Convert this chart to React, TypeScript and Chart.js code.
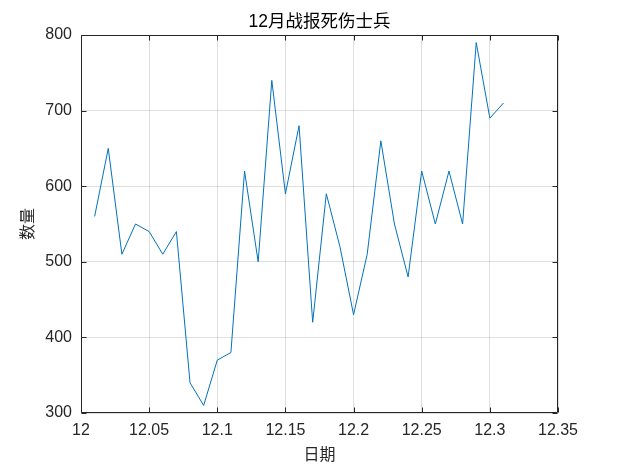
import React, { useEffect, useRef } from "react";
import { Chart, registerables } from "chart.js";

Chart.register(...registerables);

const chartTitle = "12月战报死伤士兵";
const xAxisTitle = "日期";
const yAxisTitle = "数量";

const dates = [
  12.01, 12.02, 12.03, 12.04, 12.05, 12.06, 12.07, 12.08, 12.09, 12.1,
  12.11, 12.12, 12.13, 12.14, 12.15, 12.16, 12.17, 12.18, 12.19, 12.2,
  12.21, 12.22, 12.23, 12.24, 12.25, 12.26, 12.27, 12.28, 12.29, 12.3,
  12.31,
];
const counts = [
  560, 650, 510, 550, 540, 510, 540, 340, 310, 370,
  380, 620, 500, 740, 590, 680, 420, 590, 520, 430,
  510, 660, 550, 480, 620, 550, 620, 550, 790, 690,
  710,
];

const xTickValues = [12, 12.05, 12.1, 12.15, 12.2, 12.25, 12.3, 12.35];
const xTickLabels = ["12", "12.05", "12.1", "12.15", "12.2", "12.25", "12.3", "12.35"];
const yTickValues = [300, 400, 500, 600, 700, 800];
const yTickLabels = ["300", "400", "500", "600", "700", "800"];

const FONT = "'Liberation Sans', Arial, 'Noto Sans CJK SC', sans-serif";
const TEXT = "#262626";
const GRID = "rgba(38,38,38,0.15)";

const boxPlugin = {
  id: "matlabBox",
  afterDatasetsDraw(chart: any) {
    const { ctx, chartArea } = chart;
    const l = Math.round(chartArea.left) + 0.5;
    const r = Math.round(chartArea.right) - 0.5;
    const t = Math.round(chartArea.top) + 0.5;
    const b = Math.round(chartArea.bottom) - 0.5;
    ctx.save();
    ctx.strokeStyle = TEXT;
    ctx.lineWidth = 1;
    ctx.beginPath();
    ctx.rect(l, t, r - l, b - t);
    const tl = 5;
    const xs = chart.scales.x;
    const ys = chart.scales.y;
    xTickValues.forEach((v) => {
      const px = Math.round(xs.getPixelForValue(v)) + 0.5;
      ctx.moveTo(px, b);
      ctx.lineTo(px, b - tl);
      ctx.moveTo(px, t);
      ctx.lineTo(px, t + tl);
    });
    yTickValues.forEach((v) => {
      const py = Math.round(ys.getPixelForValue(v)) + 0.5;
      ctx.moveTo(l, py);
      ctx.lineTo(l + tl, py);
      ctx.moveTo(r, py);
      ctx.lineTo(r - tl, py);
    });
    ctx.stroke();
    ctx.restore();
  },
};

export default function App() {
  const ref = useRef<HTMLCanvasElement | null>(null);
  useEffect(() => {
    if (!ref.current) return;
    const chart = new Chart(ref.current, {
      type: "line",
      data: {
        datasets: [
          {
            data: dates.map((d, i) => ({ x: d, y: counts[i] })),
            borderColor: "#0072BD",
            borderWidth: 1,
            pointRadius: 0,
            tension: 0,
            fill: false,
          },
        ],
      },
      plugins: [boxPlugin],
      options: {
        animation: false,
        responsive: false,
        maintainAspectRatio: false,
        devicePixelRatio: 1,
        layout: { padding: { left: 0, right: 60, top: 0, bottom: 0 } },
        plugins: {
          legend: { display: false },
          tooltip: { enabled: false },
          title: {
            display: true,
            fullSize: false,
            text: chartTitle,
            color: "#000",
            font: { family: FONT, size: 17.5, weight: "normal" },
            padding: { top: 12, bottom: 2 },
          },
        },
        scales: {
          x: {
            type: "linear",
            min: 12,
            max: 12.35,
            afterFit: (s: any) => {
              s.height = 54;
            },
            afterBuildTicks: (s: any) => {
              s.ticks = xTickValues.map((v) => ({ value: v }));
            },
            grid: { color: GRID, drawTicks: false, tickLength: 0 },
            border: { display: false },
            ticks: {
              color: TEXT,
              font: { family: FONT, size: 16 },
              padding: 8,
              maxRotation: 0,
              autoSkip: false,
              callback: (_v: any, i: number) => xTickLabels[i],
            },
            title: {
              display: true,
              text: xAxisTitle,
              color: TEXT,
              font: { family: FONT, size: 16 },
              padding: { top: 2, bottom: 1.5 },
            },
          },
          y: {
            type: "linear",
            min: 300,
            max: 800,
            afterFit: (s: any) => {
              s.width = 81;
            },
            afterBuildTicks: (s: any) => {
              s.ticks = yTickValues.map((v) => ({ value: v }));
            },
            grid: { color: GRID, drawTicks: false, tickLength: 0 },
            border: { display: false },
            ticks: {
              color: TEXT,
              font: { family: FONT, size: 16 },
              padding: 9,
              autoSkip: false,
              callback: (_v: any, i: number) => yTickLabels[i],
            },
            title: {
              display: true,
              text: yAxisTitle,
              color: TEXT,
              font: { family: FONT, size: 16 },
              padding: { top: 18.5, bottom: 2 },
            },
          },
        },
      },
    });
    return () => chart.destroy();
  }, []);
  return (
    <div style={{ position: "absolute", left: 0, top: 0, width: 618, height: 467, background: "#fff" }}>
      <canvas ref={ref} width={618} height={467} style={{ display: "block" }} />
    </div>
  );
}
